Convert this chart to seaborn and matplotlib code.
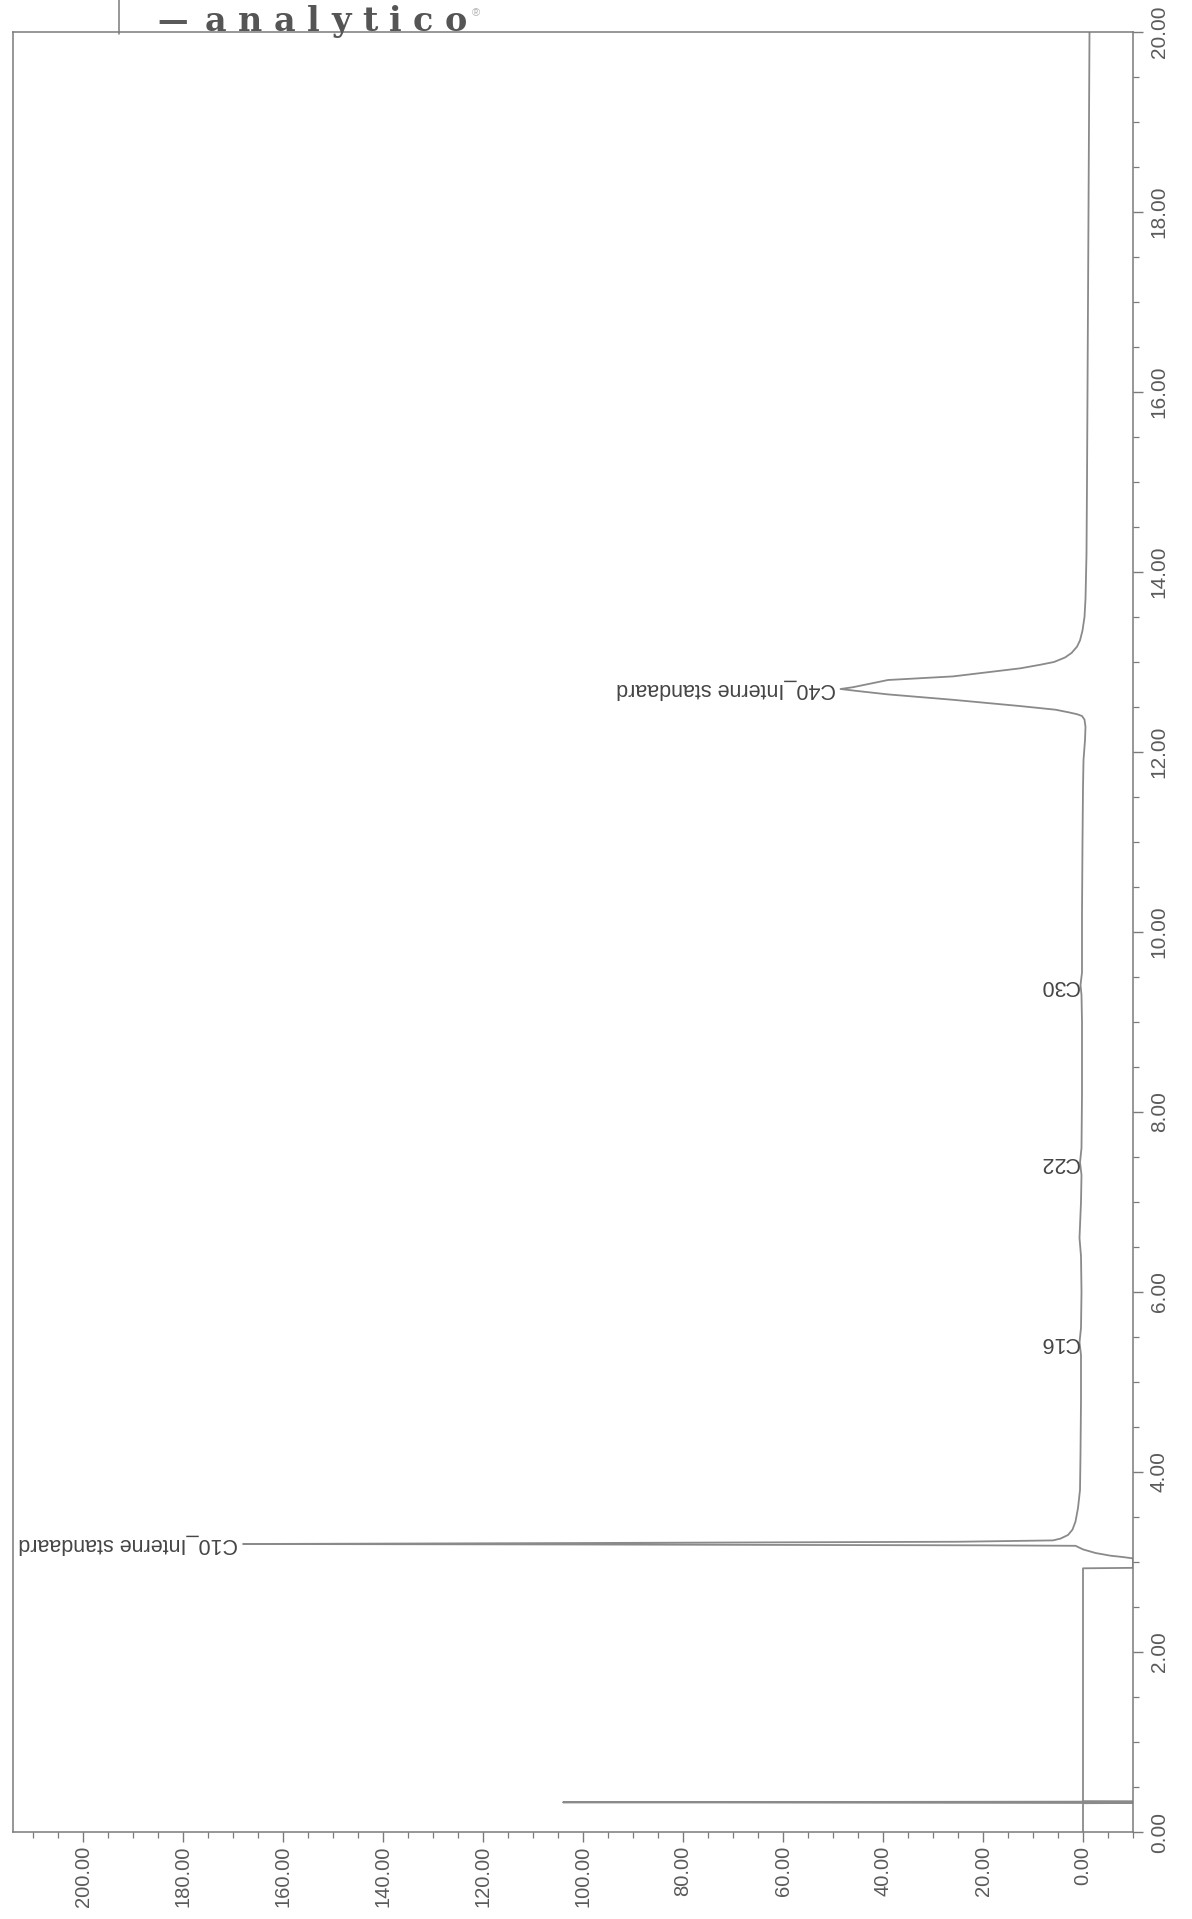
import numpy as np
import pandas as pd
import matplotlib
matplotlib.use("Agg")
import matplotlib.pyplot as plt
import seaborn as sns
from matplotlib.ticker import MultipleLocator, FormatStrFormatter
from matplotlib.lines import Line2D

# ---------------- data ----------------
time_min = [0.00, 0.32, 0.322, 0.33, 0.338, 0.34, 2.93, 2.935, 3.04, 3.055, 3.07, 3.10,
            3.14, 3.18, 3.185, 3.195, 3.20, 3.21, 3.225, 3.24, 3.26, 3.30, 3.36, 3.45,
            3.60, 3.80, 4.20, 4.80, 5.30, 5.44, 5.60, 6.00, 6.40, 6.60, 7.00, 7.30,
            7.44, 7.60, 8.20, 9.00, 9.30, 9.41, 9.55, 10.20, 11.00, 11.60, 11.91,
            12.13, 12.28, 12.36, 12.40, 12.42, 12.44, 12.47, 12.51, 12.58, 12.64,
            12.68, 12.70, 12.72, 12.80, 12.84, 12.93, 12.97, 13.00, 13.05, 13.10,
            13.17, 13.24, 13.35, 13.50, 13.70, 14.20, 15.00, 16.00, 17.00, 18.00,
            19.00, 20.00]
signal = [0.0, 0.0, -10.0, 104.0, -10.0, 0.0, 0.0, -10.0, -10.0, -8.0, -5.5, -2.5,
          0.0, 1.5, 20.0, 105.0, 168.0, 105.0, 25.0, 6.0, 4.5, 3.0, 2.1, 1.5,
          1.0, 0.6, 0.5, 0.4, 0.4, 0.7, 0.4, 0.3, 0.4, 0.7, 0.4, 0.3,
          0.6, 0.3, 0.2, 0.2, 0.3, 0.5, 0.2, 0.2, 0.1, 0.0, -0.1,
          -0.4, -0.5, -0.3, 0.2, 1.2, 2.8, 5.5, 12.5, 26.0, 39.0,
          45.5, 48.5, 46.0, 39.0, 26.0, 12.5, 8.5, 5.8, 3.6, 2.3,
          1.2, 0.6, 0.1, -0.3, -0.5, -0.7, -0.8, -0.9, -1.0, -1.1,
          -1.2, -1.3]

peak_names = ["C10_Interne standaard", "C16", "C22", "C30", "C40_Interne standaard"]
peak_times = [3.20, 5.44, 7.44, 9.41, 12.70]
peak_label_signal = [169.0, 0.9, 0.9, 0.9, 49.5]

x_major = list(range(0, 201, 20))
y_major = list(range(0, 21, 2))

# ---------------- figure ----------------
sns.set_theme(style="white")
plt.rcParams["font.family"] = ["Liberation Sans", "DejaVu Sans"]

W, H = 1192, 1919
fig = plt.figure(figsize=(W / 100, H / 100), dpi=100)
fig.patch.set_facecolor("white")

left_px, right_px, top_px, bottom_px = 13, 1133, 32, 1832
ax = fig.add_axes([left_px / W, 1 - bottom_px / H,
                   (right_px - left_px) / W, (bottom_px - top_px) / H])
ax.set_facecolor("white")

df = pd.DataFrame({"signal": signal, "time": time_min})
sns.lineplot(data=df, x="signal", y="time", sort=False, estimator=None,
             color="#8a8a8a", linewidth=1.3, ax=ax)

ax.set_xlim(214, -10)
ax.set_ylim(0, 20)
ax.set_xlabel("")
ax.set_ylabel("")

# spines
for sp in ax.spines.values():
    sp.set_visible(True)
    sp.set_color("#7a7a7a")
    sp.set_linewidth(1.1)

# x axis (signal) ticks
ax.set_xticks(x_major)
ax.xaxis.set_minor_locator(MultipleLocator(5))
ax.xaxis.set_major_formatter(FormatStrFormatter("%.2f"))
ax.tick_params(axis="x", which="both", bottom=True, top=False, direction="out",
               color="#7a7a7a", labelcolor="#5a5a5a", labelsize=14.5,
               labelrotation=90, pad=3)
ax.tick_params(axis="x", which="major", length=7, width=1)
ax.tick_params(axis="x", which="minor", length=4, width=0.9)

# y axis (time) ticks on the right
ax.yaxis.tick_right()
ax.set_yticks(y_major)
ax.yaxis.set_minor_locator(MultipleLocator(0.5))
ax.yaxis.set_major_formatter(FormatStrFormatter("%.2f"))
ax.tick_params(axis="y", which="both", left=False, right=True, direction="out",
               color="#7a7a7a", labelcolor="#5a5a5a", labelsize=15, pad=5)
ax.tick_params(axis="y", which="major", length=7, width=1)
ax.tick_params(axis="y", which="minor", length=4, width=0.9)
for lab in ax.get_yticklabels():
    lab.set_rotation(90)
    lab.set_va("center")
    lab.set_ha("left")

# peak labels (upside down, as in the scan)
for name, t, s in zip(peak_names, peak_times, peak_label_signal):
    ax.text(s, t, name, rotation=180, ha="right", va="center",
            fontsize=15.5, color="#454545")

# ---------------- letterhead ----------------
fig.add_artist(Line2D([119 / W, 119 / W], [1.0, 1 - 34 / H],
                      color="#7a7a7a", linewidth=1.1))
base_y = (H - 31) / H
fig.text(157 / W, base_y, "\u2014", fontsize=22, family="DejaVu Serif",
         fontweight="bold", color="#5a5a5a", va="baseline", ha="left")
renderer = fig.canvas.get_renderer()
logo = "analytico"
x0, x1 = 205, 467
letters = [fig.text(0, base_y, ch, fontsize=24, fontweight="bold",
                    family="DejaVu Serif", color="#555555",
                    va="baseline", ha="left") for ch in logo]
widths = [t.get_window_extent(renderer).width for t in letters]
gap = ((x1 - x0) - sum(widths)) / (len(logo) - 1)
xpos = x0
for t, w in zip(letters, widths):
    t.set_x(xpos / W)
    xpos += w + gap
fig.text(472 / W, (H - 13) / H, "\u00ae", fontsize=8, color="#b0b0b0",
         va="center", ha="left")

fig.savefig("out.png", dpi=100, facecolor="white")
